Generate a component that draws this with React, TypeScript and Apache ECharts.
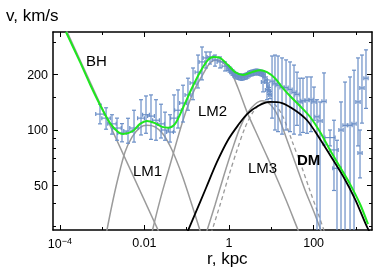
import React, { useEffect, useRef } from 'react';
import * as echarts from 'echarts';

// ---- observed rotation curve (r in kpc, v in km/s) ----
const obsR = [
  8.9e-4, 1.24e-3, 1.71e-3, 2.25e-3, 2.95e-3, 4.09e-3, 5.68e-3,
  8.31e-3, 0.0109, 0.0143, 0.0188, 0.0247, 0.0307, 0.0403, 0.0501, 0.0623, 0.0818,
  0.107, 0.141, 0.185, 0.23, 0.286, 0.356, 0.467, 0.613, 0.804,
  0.947, 1.03, 1.115, 1.21, 1.31, 1.43, 1.55, 1.68, 1.82, 1.98, 2.14, 2.33, 2.52, 2.74,
  2.97, 3.22, 3.5, 3.79, 4.12, 4.47, 4.85, 5.26, 5.71, 6.2, 6.72, 7.5, 8.36, 8.83, 9.31,
  6.37, 7.91,
  10.4, 12.2, 14.4, 17.9, 22.3, 27.7, 34.4, 40.5,
  47.7, 56.1, 69.8, 86.8, 102, 120, 142, 176, 244,
  303, 357, 444, 553, 726, 902, 1120, 1250, 1390, 1730,
];
const obsV = [
  122, 116, 108, 102.5, 96.3, 98.8, 102.5,
  116, 121, 119, 113, 108, 100, 97.5, 116, 128, 140,
  155, 180, 206, 234, 246, 249, 240, 234, 222,
  217, 213, 209, 205, 201, 198, 196, 195, 194, 193, 194, 195, 196, 198,
  201, 203, 204, 205, 206, 207, 206, 205, 204, 202, 199, 187, 173, 163, 155,
  182, 165,
  184, 178, 175, 170, 170, 166, 160, 156,
  142, 144, 145, 146, 142, 118, 112, 143, 91,
  78, 62, 100, 106, 106, 108, 142, 75, 169, 191,
];
const obsErrLo = [
  14, 15, 13, 14.5, 10, 14, 16.5,
  22, 25, 30, 25, 17.5, 12, 11.5, 18.5, 25.5, 29.5,
  27, 34, 37, 47, 29, 21, 18, 17, 13,
  7, 7, 7, 7, 7, 7, 7, 7, 7, 7, 7, 7, 7, 7,
  7, 7, 7, 7, 7, 7, 7, 7, 7, 7, 7, 7, 7, 7, 7,
  21, 19,
  68, 78, 77, 75, 70, 68, 65, 50,
  48, 47, 49, 48, 29, 93, 87, 60, 9,
  31, 37, 75, 81, 81, 83, 60, 20, 60, 60,
];
const obsErrHi = [
  16, 16, 13, 13.5, 12, 17, 25.5,
  30, 32, 36, 33, 30, 25, 23.5, 39, 37, 35,
  36, 37, 49, 48, 19, 16, 15, 15, 12,
  7, 7, 7, 7, 7, 7, 7, 7, 7, 7, 7, 7, 7, 7,
  7, 7, 7, 7, 7, 7, 7, 7, 7, 7, 7, 7, 7, 7, 7,
  24, 22,
  68, 77, 77, 76, 70, 68, 65, 50,
  49, 47, 49, 48, 29, 28, 30, 61, 9,
  35, 26, 42, 76, 88, 103, 104, 25, 86, 81,
];
// half width of the radial error bar, in dex
const obsRErrDex = [
  0.1, 0.1, 0.1, 0.1, 0.1, 0.1, 0.1,
  0.08, 0.08, 0.08, 0.08, 0.08, 0.08, 0.08, 0.08, 0.08, 0.08,
  0.07, 0.07, 0.07, 0.07, 0.07, 0.07, 0.07, 0.07, 0.07,
  0.03, 0.03, 0.03, 0.03, 0.03, 0.03, 0.03, 0.03, 0.03, 0.03, 0.03, 0.03, 0.03, 0.03,
  0.03, 0.03, 0.03, 0.03, 0.03, 0.03, 0.03, 0.03, 0.03, 0.03, 0.03, 0.03, 0.03, 0.03, 0.03,
  0.04, 0.04,
  0.05, 0.05, 0.05, 0.05, 0.05, 0.05, 0.05, 0.05,
  0.05, 0.05, 0.05, 0.05, 0.05, 0.05, 0.05, 0.05, 0.12,
  0.1, 0.1, 0.05, 0.05, 0.05, 0.05, 0.05, 0.05, 0.05, 0.05,
];

// ---- model components ----
const bhR = [1.0e-4, 0.03];
const bhV = [415, 24];

const lm1R = [1.17e-3, 1.71e-3, 2.38e-3, 3.48e-3, 5.09e-3, 7.87e-3, 0.0115, 0.0178, 0.0275, 0.0449, 0.0774, 0.133, 0.243];
const lm1V = [25.3, 39.2, 54.9, 76.0, 91.6, 103, 106, 104, 95.1, 77.9, 57.0, 39.2, 25.3];

const lm2R = [0.0136, 0.0234, 0.0403, 0.0818, 0.141, 0.243, 0.356, 0.493, 0.683, 1.06, 1.63, 2.67, 4.12, 7.1, 12.2, 22.3, 42.8, 56.1];
const lm2V = [25.3, 41.7, 64.6, 113, 159, 201, 231, 240, 234, 211, 169, 125, 100, 76.0, 57.7, 41.7, 28.7, 24.7];

const lm3R = [0.256, 0.467, 0.762, 1.18, 1.82, 2.81, 4.12, 6.03, 9.31, 14.4, 23.5, 38.4, 62.6, 102, 167];
const lm3V = [25.3, 39.2, 57.0, 77.9, 103, 125, 138, 144, 138, 119, 88.3, 64.6, 47.3, 35.9, 26.6];

const altR = [0.336, 0.613, 1.0, 1.55, 2.39, 3.69, 5.41, 7.91, 12.2, 18.9, 30.9, 50.5, 82.2, 127, 196];
const altV = [25.3, 39.2, 57.0, 77.9, 103, 125, 138, 142, 137, 118, 87.2, 64.6, 46.8, 35.4, 26.6];

const dmR = [0.0863, 0.157, 0.286, 0.52, 0.947, 1.63, 2.67, 4.85, 9.31, 17.9, 36.3, 69.8, 127, 244, 495, 953, 1830, 2400];
const dmV = [25.3, 35.0, 48.5, 67.1, 88.3, 106, 122, 135, 142, 140, 128, 113, 92.8, 73.2, 56.3, 42.2, 29.8, 26.6];

const totalR = [1.4e-4, 3.0e-4, 5.18e-4, 8.9e-4, 1.54e-3, 2.38e-3, 3.12e-3, 5.37e-3, 7.87e-3, 0.0115, 0.0178, 0.0261, 0.0361, 0.0529, 0.0818, 0.133, 0.206, 0.319, 0.419, 0.613, 0.947, 1.39, 2.14, 3.5, 5.41, 7.91, 12.2, 17.9, 27.7, 47.7, 82.2, 142, 244, 421, 726, 1250, 1930];
const totalV = [340, 234, 177, 137, 109, 97.5, 95.1, 98.8, 108, 112, 109, 104, 103, 108, 132, 169, 206, 240, 249, 246, 225, 206, 199, 206, 211, 206, 191, 171, 153, 135, 118, 97.5, 77.9, 63.0, 50.9, 39.7, 30.9];

// ---- axes ----
const rRange = [6.9e-5, 2400];
const vRange = [28.7, 340];
const xMajorTicks = [1e-4, 1e-2, 1, 100];
const xMinorTicks = [1e-3, 0.1, 10, 1000];
const yMajorTicks = [50, 100, 200];
const yMinorTicks = [30, 40, 60, 70, 80, 90, 150, 300];

const lg = Math.log10;
const FONT = '"Liberation Sans", Arial, sans-serif';
const BLUE = '#6b8fc7';
const GRAY = '#9b9b9b';
const GREEN = '#1fe61f';

const pairs = (rs: number[], vs: number[]) => rs.map((r, i) => [lg(r), lg(vs[i])]);

export default function App() {
  const ref = useRef<HTMLDivElement>(null);
  useEffect(() => {
    if (!ref.current) return;
    const chart = echarts.init(ref.current, null, { renderer: 'svg' });
    const xMin = lg(rRange[0]);
    const xMax = lg(rRange[1]);
    const yMin = lg(vRange[0]);
    const yMax = lg(vRange[1]);
    const frameLine = { show: true, onZero: false, lineStyle: { color: '#000', width: 1.5 } };
    const hiddenLine = { show: false, onZero: false };
    const tick = (vals: number[], len: number) => ({
      show: true, inside: true, length: len, customValues: vals.map(lg),
      lineStyle: { color: '#000', width: 1 },
    });
    const baseX = (extra: any) => ({
      type: 'value', min: xMin, max: xMax, splitLine: { show: false },
      axisLine: hiddenLine, axisLabel: { show: false }, axisTick: { show: false }, ...extra,
    });
    const baseY = (extra: any) => ({
      type: 'value', min: yMin, max: yMax, splitLine: { show: false },
      axisLine: hiddenLine, axisLabel: { show: false }, axisTick: { show: false }, ...extra,
    });
    const xLabel = (val: number) => {
      const p = Math.round(val);
      if (p === -4) return '{b|10}{s|\u22124}';
      if (p === -2) return '0.01';
      return String(Math.pow(10, p));
    };
    const errData = obsR.map((r, i) => [
      lg(r), lg(obsV[i]), lg(Math.max(obsV[i] - obsErrLo[i], 1)), lg(obsV[i] + obsErrHi[i]), obsRErrDex[i],
    ]);
    const lineSeries = (name: string, data: number[][], color: string, width: number, type: any = 'solid', z = 2) => ({
      name, type: 'line', data, showSymbol: false, smooth: 0.3, clip: true, z,
      lineStyle: { color, width, type }, silent: true,
    });
    chart.setOption({
      animation: false,
      grid: { left: 53, right: 2, top: 32, bottom: 41, containLabel: false },
      xAxis: [
        baseX({
          position: 'bottom', axisLine: frameLine, axisTick: tick(xMajorTicks, 5),
          axisLabel: {
            show: true, customValues: xMajorTicks.map(lg), formatter: xLabel, margin: 6,
            color: '#000', fontSize: 12.5, fontFamily: FONT,
            rich: {
              b: { fontSize: 12.5, fontFamily: FONT, color: '#000' },
              s: { fontSize: 9, fontFamily: FONT, color: '#000', padding: [0, 0, 7, 0] },
            },
          },
        }),
        baseX({ position: 'bottom', axisTick: tick(xMinorTicks, 3) }),
        baseX({ position: 'top', axisLine: frameLine, axisTick: tick(xMajorTicks, 5) }),
        baseX({ position: 'top', axisTick: tick(xMinorTicks, 3) }),
      ],
      yAxis: [
        baseY({
          position: 'left', axisLine: frameLine, axisTick: tick(yMajorTicks, 5),
          axisLabel: {
            show: true, customValues: yMajorTicks.map(lg), margin: 5,
            formatter: (v: number) => String(Math.round(Math.pow(10, v))),
            color: '#000', fontSize: 12.5, fontFamily: FONT,
          },
        }),
        baseY({ position: 'left', axisTick: tick(yMinorTicks, 3) }),
        baseY({ position: 'right', axisLine: frameLine, axisTick: tick(yMajorTicks, 5) }),
        baseY({ position: 'right', axisTick: tick(yMinorTicks, 3) }),
      ],
      series: [
        lineSeries('BH', pairs(bhR, bhV), GRAY, 1.5),
        lineSeries('LM1', pairs(lm1R, lm1V), GRAY, 1.5),
        lineSeries('LM2', pairs(lm2R, lm2V), GRAY, 1.5),
        lineSeries('LM3', pairs(lm3R, lm3V), GRAY, 1.5),
        lineSeries('LM3 alt', pairs(altR, altV), GRAY, 1.3, [4, 3]),
        {
          name: 'data', type: 'custom', clip: true, z: 3, silent: true,
          encode: { x: 0, y: [1, 2, 3] },
          data: errData,
          renderItem: (_params: any, api: any) => {
            const x = api.value(0), y = api.value(1), lo = api.value(2), hi = api.value(3), d = api.value(4);
            const c = api.coord([x, y]);
            const t = api.coord([x, hi]);
            const b = api.coord([x, lo]);
            const l = api.coord([x - d, y]);
            const r = api.coord([x + d, y]);
            const cap = 2;
            const style = { stroke: BLUE, lineWidth: 1.2, fill: null };
            const seg = (x1: number, y1: number, x2: number, y2: number) => ({
              type: 'line', shape: { x1, y1, x2, y2 }, style,
            });
            return {
              type: 'group',
              children: [
                seg(c[0], t[1], c[0], b[1]),
                seg(c[0] - cap, t[1], c[0] + cap, t[1]),
                seg(c[0] - cap, b[1], c[0] + cap, b[1]),
                seg(l[0], c[1], r[0], c[1]),
                seg(l[0], c[1] - cap, l[0], c[1] + cap),
                seg(r[0], c[1] - cap, r[0], c[1] + cap),
              ],
            };
          },
        },
        lineSeries('DM', pairs(dmR, dmV), '#000', 1.8, 'solid', 4),
        lineSeries('total', pairs(totalR, totalV), GREEN, 2, 'solid', 5),
      ],
      graphic: [
        { type: 'text', x: 6, y: 15, style: { text: 'v, km/s', font: `17px ${FONT}`, fill: '#000', verticalAlign: 'middle', textVerticalAlign: 'middle' } },
        { type: 'text', x: 207, y: 258, style: { text: 'r, kpc', font: `17px ${FONT}`, fill: '#000', verticalAlign: 'middle', textVerticalAlign: 'middle' } },
        { type: 'text', x: 86, y: 60, z: 10, style: { text: 'BH', font: `15px ${FONT}`, fill: '#000', verticalAlign: 'middle', textVerticalAlign: 'middle' } },
        { type: 'text', x: 133, y: 170, z: 10, style: { text: 'LM1', font: `15px ${FONT}`, fill: '#000', verticalAlign: 'middle', textVerticalAlign: 'middle' } },
        { type: 'text', x: 198, y: 110, z: 10, style: { text: 'LM2', font: `15px ${FONT}`, fill: '#000', verticalAlign: 'middle', textVerticalAlign: 'middle' } },
        { type: 'text', x: 248, y: 167, z: 10, style: { text: 'LM3', font: `15px ${FONT}`, fill: '#000', verticalAlign: 'middle', textVerticalAlign: 'middle' } },
        { type: 'text', x: 297, y: 159, z: 10, style: { text: 'DM', font: `bold 15px ${FONT}`, fill: '#000', verticalAlign: 'middle', textVerticalAlign: 'middle' } },
      ],
    });
    return () => chart.dispose();
  }, []);
  return <div ref={ref} style={{ position: 'fixed', left: 0, top: 0, width: 374, height: 271 }} />;
}
